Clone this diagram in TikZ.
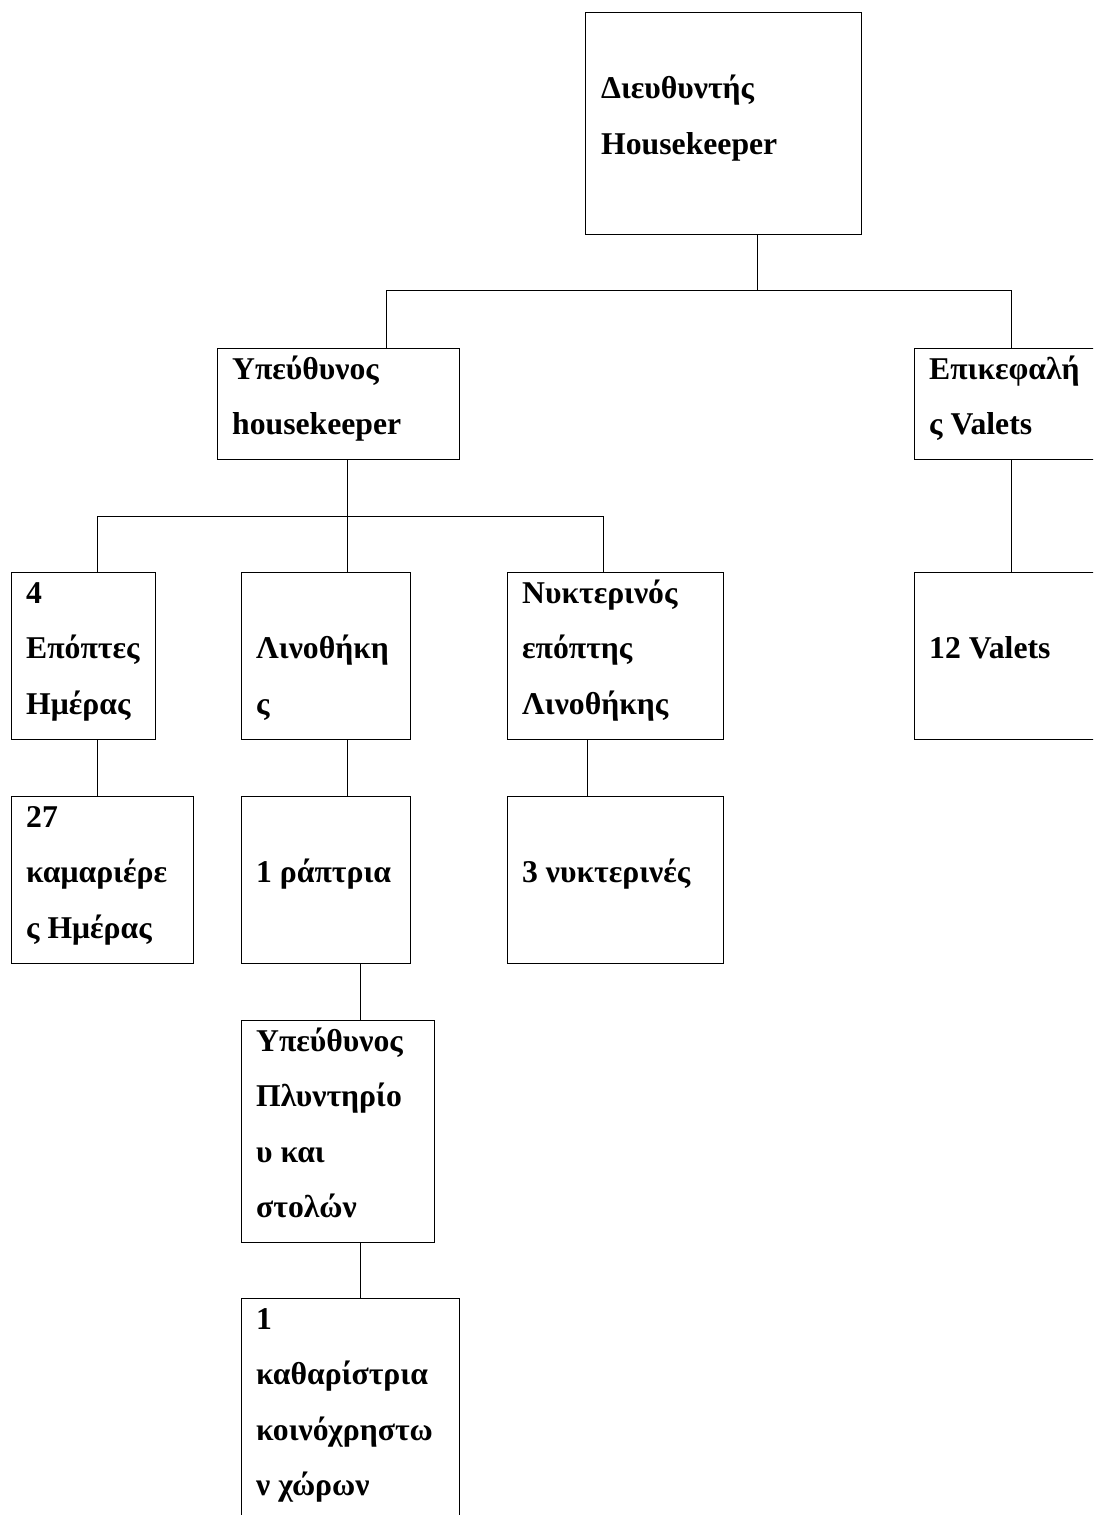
\documentclass[tikz,border=0pt]{standalone}
\usepackage{fontspec}
\setmainfont{Liberation Serif}
\begin{document}
\begin{tikzpicture}[x=1pt,y=-1pt,
  box/.style={draw=black,line width=1pt,rectangle,inner sep=0pt,outer sep=0pt,anchor=north west},
  txt/.style={anchor=base west,inner sep=0pt,font=\fontsize{31.7}{31.7}\selectfont\bfseries},
  link/.style={draw=black,line width=1pt}]
\useasboundingbox (0,0) rectangle (1093,1515);
\clip (0,0) rectangle (1093,1515);
\fill[white] (0,0) rectangle (1093,1515);

% boxes
\node[box,minimum width=276pt,minimum height=222pt] (dir) at (585,12) {};
\node[box,minimum width=242pt,minimum height=111pt] (hk)  at (217,348) {};
\node[box,minimum width=220pt,minimum height=111pt] (vh)  at (914,348) {};
\node[box,minimum width=220pt,minimum height=167pt] (vl)  at (914,572) {};
\node[box,minimum width=144pt,minimum height=167pt] (ep)  at (11,572) {};
\node[box,minimum width=169pt,minimum height=167pt] (lin) at (241,572) {};
\node[box,minimum width=216pt,minimum height=167pt] (nyk) at (507,572) {};
\node[box,minimum width=182pt,minimum height=167pt] (kam) at (11,796) {};
\node[box,minimum width=169pt,minimum height=167pt] (rap) at (241,796) {};
\node[box,minimum width=216pt,minimum height=167pt] (nyx) at (507,796) {};
\node[box,minimum width=193pt,minimum height=222pt] (ply) at (241,1020) {};
\node[box,minimum width=218pt,minimum height=260pt] (kth) at (241,1298) {};

% texts
\node[txt] (t1a) at (601,98.6) {Διευθυντής};
\node[txt] (t1b) at (601,154.2) {Housekeeper};
\node[txt] (t2a) at (232,379) {Υπεύθυνος};
\node[txt] (t2b) at (232,434.6) {housekeeper};
\node[txt] (t3a) at (929,379) {Επικεφαλή};
\node[txt] (t3b) at (929,434.6) {ς Valets};
\node[txt] (t4a) at (929,658.6) {12 Valets};
\node[txt] (t5a) at (26,603) {4};
\node[txt] (t5b) at (26,658.6) {Επόπτες};
\node[txt] (t5c) at (26,714.2) {Ημέρας};
\node[txt] (t6a) at (256,658.6) {Λινοθήκη};
\node[txt] (t6b) at (256,714.2) {ς};
\node[txt] (t7a) at (522,603) {Νυκτερινός};
\node[txt] (t7b) at (522,658.6) {επόπτης};
\node[txt] (t7c) at (522,714.2) {Λινοθήκης};
\node[txt] (t8a) at (26,827) {27};
\node[txt] (t8b) at (26,882.6) {καμαριέρε};
\node[txt] (t8c) at (26,938.2) {ς Ημέρας};
\node[txt] (t9a) at (256,882.6) {1 ράπτρια};
\node[txt] (t10a) at (522,882.6) {3 νυκτερινές};
\node[txt] (t11a) at (256,1051) {Υπεύθυνος};
\node[txt] (t11b) at (256,1106.6) {Πλυντηρίο};
\node[txt] (t11c) at (256,1162.2) {υ και};
\node[txt] (t11d) at (256,1217.8) {στολών};
\node[txt] (t12a) at (256,1329) {1};
\node[txt] (t12b) at (256,1384.6) {καθαρίστρια};
\node[txt] (t12c) at (256,1440.2) {κοινόχρηστω};
\node[txt] (t12d) at (256,1495.8) {ν χώρων};

% junction points of the connectors
\coordinate (j1)  at (757,290);
\coordinate (j1l) at (386,290);
\coordinate (j1r) at (1011,290);
\coordinate (j2)  at (347,516);
\coordinate (j2l) at (97,516);
\coordinate (j2r) at (603,516);
\coordinate (xa) at (97,0);
\coordinate (xb) at (347,0);
\coordinate (xc) at (587,0);
\coordinate (xd) at (360,0);
\coordinate (xe) at (1011,0);

% connectors
\draw[link] (j1 |- dir.south) -- (j1);
\draw[link] (j1l |- hk.north) -- (j1l) -- (j1r) -- (j1r |- vh.north);
\draw[link] (xe |- vh.south) -- (xe |- vl.north);
\draw[link] (j2 |- hk.south) -- (j2 |- ep.north);
\draw[link] (j2l |- ep.north) -- (j2l) -- (j2r) -- (j2r |- nyk.north);
\draw[link] (xa |- ep.south) -- (xa |- kam.north);
\draw[link] (xb |- lin.south) -- (xb |- rap.north);
\draw[link] (xc |- nyk.south) -- (xc |- nyx.north);
\draw[link] (xd |- rap.south) -- (xd |- ply.north);
\draw[link] (xd |- ply.south) -- (xd |- kth.north);
\end{tikzpicture}
\end{document}
